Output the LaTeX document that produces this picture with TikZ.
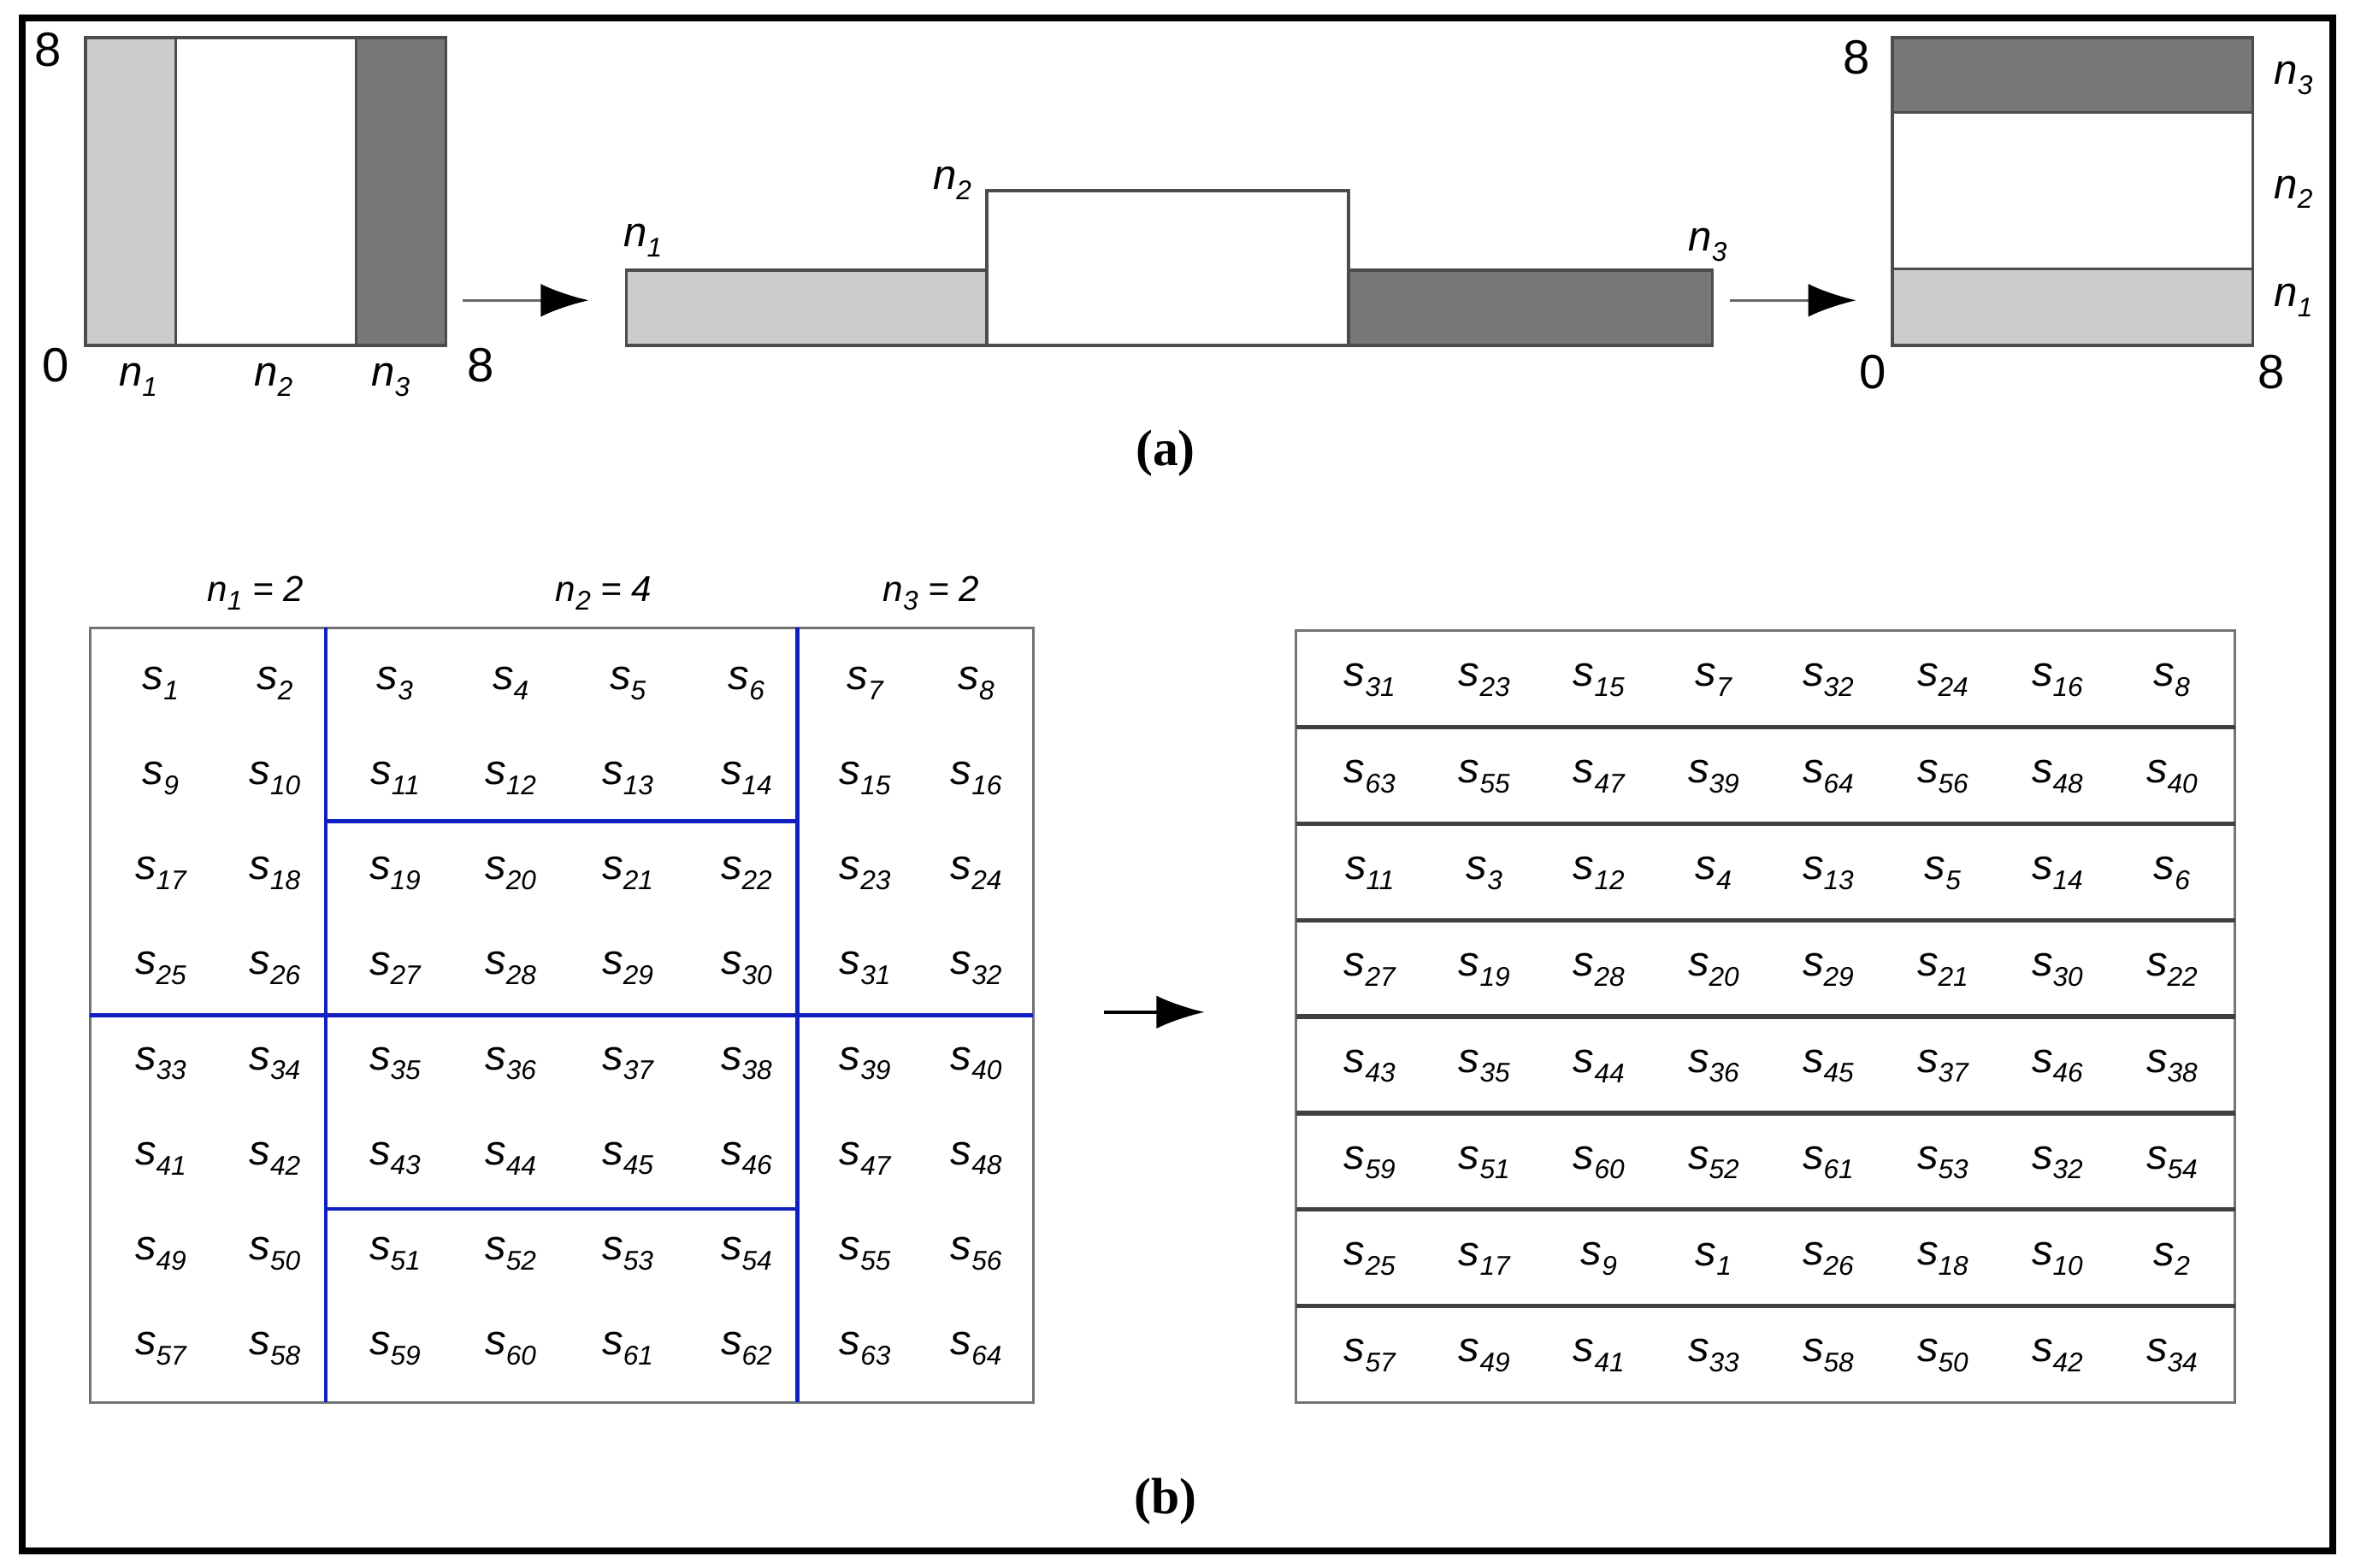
\documentclass[tikz,border=0pt]{standalone}
\usepackage{fontspec}
\usetikzlibrary{arrows.meta}
\setmainfont{Liberation Serif}
\newfontfamily\lsans{Liberation Sans}
\newcommand{\sv}[1]{{\lsans\itshape s\raisebox{-0.45ex}{\small #1}}}
\newcommand{\nv}[1]{{\lsans\itshape n\raisebox{-0.45ex}{\small #1}}}
\definecolor{lg}{HTML}{CCCCCC}
\definecolor{dg}{HTML}{777777}
\definecolor{bl}{HTML}{1020C0}
\begin{document}
\begin{tikzpicture}[x=0.5pt,y=-0.5pt,
  bar/.style={draw=black!70,line width=1pt},
  arr/.style={draw=black!60,line width=1pt,-{Latex[length=16pt,width=11pt,fill=black,color=black]}},
  num/.style={font=\lsans\fontsize{16}{16}\selectfont},
  nl/.style={font=\fontsize{14}{14}\selectfont},
  hl/.style={font=\lsans\itshape\fontsize{12}{12}\selectfont},
  sl/.style={font=\fontsize{14}{14}\selectfont},
  captxt/.style={font=\bfseries\fontsize{17}{17}\selectfont},
  grid/.style={draw=black!55,line width=0.8pt},
  bline/.style={draw=bl,line width=1.3pt}]
\useasboundingbox (0,0) rectangle (1568,1044);
\draw[line width=2.2pt] (15,12) rectangle (1553,1033);
% (a) left
\path[bar,fill=lg] (57,25) rectangle (117,230);
\path[bar,fill=white] (117,25) rectangle (237,230);
\path[bar,fill=dg] (237,25) rectangle (297,230);
\node[num] (a8a) at (32,33) {8};
\node[num] (a0a) at (37,243) {0};
\node[num] (a8b) at (320,243) {8};
\node[nl] (an1) at (92,253) {\nv{1}};
\node[nl] (an2) at (182,253) {\nv{2}};
\node[nl] (an3) at (260,253) {\nv{3}};
\coordinate (p1) at (308,200); \coordinate (p2) at (392,200);
\draw[arr] (p1) -- (p2);
% middle
\path[bar,fill=lg] (417,180) rectangle (657,230);
\path[bar,fill=white] (657,127) rectangle (898,230);
\path[bar,fill=dg] (898,180) rectangle (1140,230);
\node[nl] (mn1) at (428,160) {\nv{1}};
\node[nl] (mn2) at (634,122) {\nv{2}};
\node[nl] (mn3) at (1137,163) {\nv{3}};
\coordinate (p3) at (1152,200); \coordinate (p4) at (1236,200);
\draw[arr] (p3) -- (p4);
% right
\path[bar,fill=dg] (1260,25) rectangle (1500,75);
\path[bar,fill=white] (1260,75) rectangle (1500,179);
\path[bar,fill=lg] (1260,179) rectangle (1500,230);
\node[num] (r8a) at (1236,38) {8};
\node[num] (r0) at (1247,248) {0};
\node[num] (r8b) at (1512,248) {8};
\node[nl] (rn3) at (1527,52) {\nv{3}};
\node[nl] (rn2) at (1527,128) {\nv{2}};
\node[nl] (rn1) at (1527,200) {\nv{1}};
\node[captxt] (capa) at (776,302) {(a)};
% (b) left grid
\draw[grid] (60,418) rectangle (688,934);
\node[hl] (h1) at (170,395) {\nv{1} = 2};
\node[hl] (h2) at (402,395) {\nv{2} = 4};
\node[hl] (h3) at (620,395) {\nv{3} = 2};
\draw[bline] (217,418) -- (217,934);
\draw[bline] (531,418) -- (531,934);
\draw[bline] (60,676) -- (688,676);
\draw[bline] (217,547) -- (531,547);
\draw[bline] (217,805) -- (531,805);
\foreach \r in {0,...,7}{
  \foreach \c/\xx in {0/107,1/183,2/263,3/340,4/418,5/497,6/576,7/650}{
    \pgfmathtruncatemacro{\k}{\r*8+\c+1}
    \node[sl] (L\k) at (\xx,{455+63.3*\r}) {\sv{\k}};
  }}
\coordinate (p5) at (735,674); \coordinate (p6) at (802,674);
\draw[arr,draw=black] (p5) -- (p6);
% right grid
\draw[grid] (863,420) rectangle (1488,934);
\foreach \r in {1,...,7}{\draw[draw=black!75,line width=1.5pt] (863,{420+64.25*\r}) -- (1488,{420+64.25*\r});}
\foreach \row [count=\r from 0] in {
 {31,23,15,7,32,24,16,8},
 {63,55,47,39,64,56,48,40},
 {11,3,12,4,13,5,14,6},
 {27,19,28,20,29,21,30,22},
 {43,35,44,36,45,37,46,38},
 {59,51,60,52,61,53,32,54},
 {25,17,9,1,26,18,10,2},
 {57,49,41,33,58,50,42,34}}{
  \foreach \v [count=\c from 0] in \row {
    \node[sl] (R\r-\c) at ({912+76.3*\c},{453+64.25*\r}) {\sv{\v}};
  }}
\node[captxt] (capb) at (776,1000) {(b)};
\end{tikzpicture}
\end{document}
